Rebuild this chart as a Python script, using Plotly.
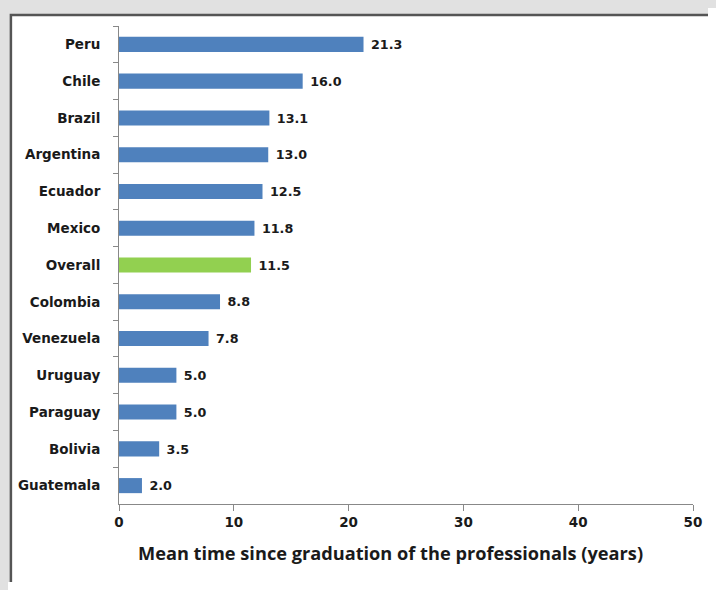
import plotly.graph_objects as go

countries = ["Peru", "Chile", "Brazil", "Argentina", "Ecuador", "Mexico", "Overall",
             "Colombia", "Venezuela", "Uruguay", "Paraguay", "Bolivia", "Guatemala"]
values = [21.3, 16.0, 13.1, 13.0, 12.5, 11.8, 11.5, 8.8, 7.8, 5.0, 5.0, 3.5, 2.0]
labels = ["21.3", "16.0", "13.1", "13.0", "12.5", "11.8", "11.5", "8.8", "7.8", "5.0", "5.0", "3.5", "2.0"]
x_ticks = [0, 10, 20, 30, 40, 50]
x_title = "Mean time since graduation of the professionals (years)"

colors = ["#92d050" if c == "Overall" else "#4f81bd" for c in countries]
lab_font = dict(family="DejaVu Sans", size=13.5, color="#1a1a1a", weight="bold")

# the page body adds an 8px margin, so the figure is sized to fit inside the window
W, H = 700, 574
L, R, T, B = 111, 6, 17.6, 77.6
pw, ph = W - L - R, H - T - B

fig = go.Figure(go.Bar(
    x=values, y=countries, orientation="h",
    marker=dict(color=colors, line=dict(width=0)),
    width=0.41,
    text=[" " + t for t in labels], textposition="outside", cliponaxis=False,
    textfont=lab_font,
))

fig.update_layout(
    width=W, height=H,
    margin=dict(l=L, r=R, t=T, b=B),
    paper_bgcolor="#e1e1e1", plot_bgcolor="white",
    showlegend=False,
    font=dict(family="DejaVu Sans", color="#1a1a1a"),
    shapes=[dict(type="rect", xref="paper", yref="paper",
                 x0=(1.2 - L) / pw, x1=1.2, y0=-0.3, y1=(H - B - 6.5) / ph,
                 fillcolor="white", line=dict(color="#555555", width=2.5), layer="below")],
    annotations=[dict(text=x_title, xref="paper", yref="paper",
                      x=(387 - L) / pw, y=(H - B - 545) / ph,
                      xanchor="center", yanchor="middle", showarrow=False,
                      font=dict(family="Open Sans", size=18.2, color="#1a1a1a", weight="bold"))],
)
fig.update_xaxes(
    range=[0, 50], tickvals=x_ticks, showgrid=False, zeroline=False,
    showline=True, linecolor="#888888", linewidth=1,
    ticks="outside", ticklen=6, tickcolor="#888888",
    tickfont=lab_font, ticklabeloverflow="allow",
)
fig.update_yaxes(
    categoryorder="array", categoryarray=countries, autorange="reversed",
    showgrid=False, zeroline=False,
    showline=True, linecolor="#888888", linewidth=1,
    ticks="outside", ticklen=5, tickcolor="#888888", tickson="boundaries",
    tickfont=lab_font,
    ticklabelstandoff=15,
)

page_bg = ("linear-gradient(#e1e1e1,#e1e1e1) 0 0/100% 8px no-repeat,"
           "linear-gradient(#e1e1e1,#e1e1e1) 0 0/8px 100% no-repeat,#ffffff")
fig.write_html("out.html", config={"displayModeBar": False},
               post_script="document.documentElement.style.background='%s';" % page_bg)
